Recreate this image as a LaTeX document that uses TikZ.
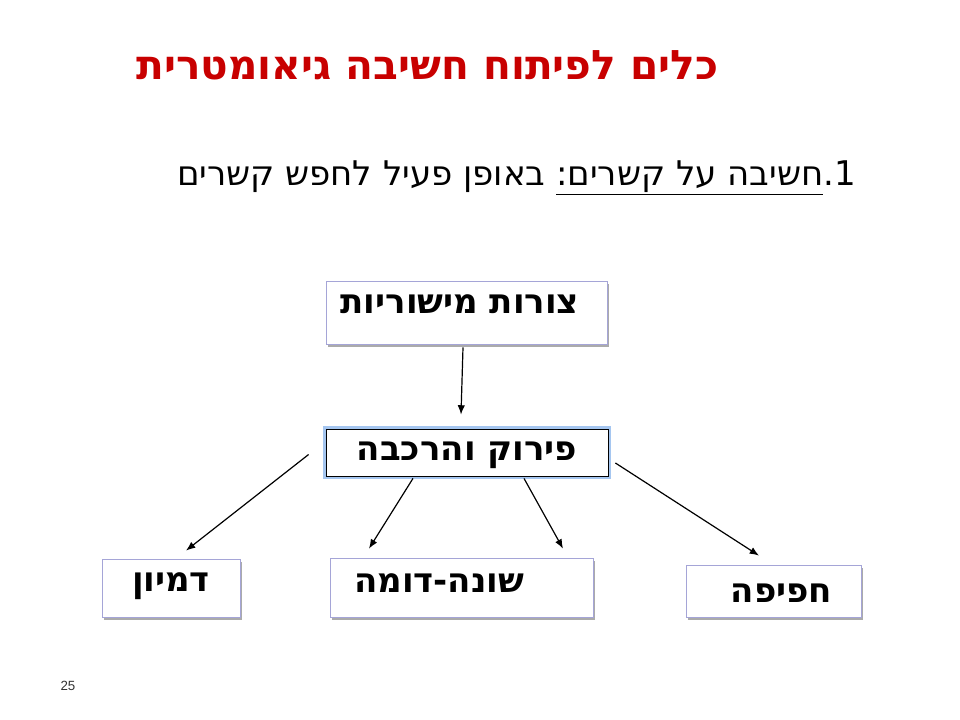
\documentclass[tikz,border=0pt]{standalone}
\usepackage{fontspec}
\setmainfont{Liberation Sans}
\newfontfamily\hebfont[Script=Hebrew]{DejaVu Sans}
\TeXXeTstate=1
\usetikzlibrary{positioning,calc,shadows,arrows.meta}
\definecolor{titlered}{RGB}{200,0,0}
\definecolor{boxline}{RGB}{165,165,215}
\definecolor{glowblue}{RGB}{165,198,240}
\tikzset{
  hebbox/.style={draw=boxline, fill=white, line width=0.6pt,
    drop shadow={shadow xshift=1.8pt, shadow yshift=-2pt, fill=black!55, opacity=0.6}},
  glowbox/.style={draw=black, fill=white, line width=0.6pt,
    preaction={draw=glowblue, line width=4pt}},
  boxtext/.style={inner sep=0pt, font=\hebfont\bfseries\fontsize{25.5}{30}\selectfont},
  link/.style={->, line width=0.9pt},
}
\begin{document}
\begin{tikzpicture}[x=0.75pt, y=-0.75pt, >={Latex[length=7pt,width=5.5pt]}]
  \useasboundingbox (0,0) rectangle (960,720);
  % title and subtitle
  \node (title) at (427.5,65) {\hebfont\bfseries\fontsize{30.5}{36}\selectfont\color{titlered}\beginR כלים לפיתוח חשיבה גיאומטרית\endR};
  \node (sub) at (516.5,178) {\hebfont\fontsize{25.5}{30}\selectfont\beginR 1\kern0pt.\kern0pt\underline{\beginR חשיבה על קשרים\kern0pt:\endR} באופן פעיל לחפש קשרים\endR};
  % boxes
  \node[hebbox, minimum width=210.75pt, minimum height=47.25pt] (flat) at (466.5,312.5) {};
  \node[boxtext] (flatT) at (460,304) {\beginR צורות מישוריות\endR};
  \node[glowbox, minimum width=211.5pt, minimum height=35.25pt] (split) at (467,452.5) {};
  \node[boxtext] (splitT) at (467,455) {\beginR פירוק והרכבה\endR};
  \node[hebbox, minimum width=103.5pt, minimum height=43.5pt] (alike) at (171,588) {};
  \node[boxtext] (alikeT) at (171,586) {\beginR דמיון\endR};
  \node[hebbox, minimum width=197.25pt, minimum height=44.25pt] (diff) at (461.5,587.5) {};
  \node[boxtext] (diffT) at (439,583) {\beginR שונה-דומה\endR};
  \node[hebbox, minimum width=131.25pt, minimum height=39pt] (cover) at (773.5,591) {};
  \node[boxtext] (coverT) at (781.5,593) {\beginR חפיפה\endR};
  % arrows
  \draw[link] ($(flat.south)+(-3.5,3)$) -- ($(split.north)+(-6,-14)$);
  \draw[link] ($(split.west)+(-17,2)$) -- ($(alike.north)+(15,-8)$);
  \draw[link] ($(split.south)+(-54,2)$) -- ($(diff.north)+(-92.5,-9)$);
  \draw[link] ($(split.south)+(57,2)$) -- ($(diff.north)+(101.5,-9)$);
  \draw[link] ($(split.east)+(7,10.5)$) -- ($(cover.north)+(-14.5,-9)$);
  % page number
  \node[font=\fontsize{10}{12}\selectfont, text=black!80] (page) at (68,686) {25};
\end{tikzpicture}
\end{document}
